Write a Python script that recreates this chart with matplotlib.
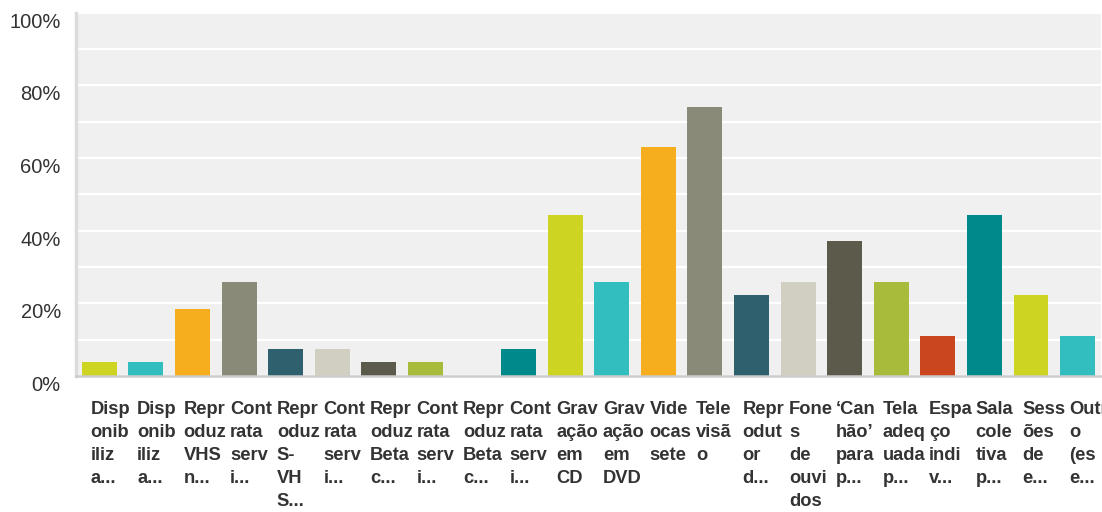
import matplotlib.pyplot as plt
from matplotlib.ticker import MultipleLocator, FuncFormatter

# respostas em % (n = 27)
labels = [
    'Disp\nonib\niliz\na...', 'Disp\nonib\niliz\na...', 'Repr\noduz\nVHS\nn...',
    'Cont\nrata\nserv\ni...', 'Repr\noduz\nS-\nVH\nS...', 'Cont\nrata\nserv\ni...',
    'Repr\noduz\nBeta\nc...', 'Cont\nrata\nserv\ni...', 'Repr\noduz\nBeta\nc...',
    'Cont\nrata\nserv\ni...', 'Grav\nação\nem\nCD', 'Grav\nação\nem\nDVD',
    'Vide\nocas\nsete', 'Tele\nvisã\no', 'Repr\nodut\nor\nd...',
    'Fone\ns\nde\nouvi\ndos', '‘Can\nhão’\npara\np...', 'Tela\nadeq\nuada\np...',
    'Espa\nço\nindi\nv...', 'Sala\ncole\ntiva\np...', 'Sess\nões\nde\ne...',
    'Outr\no\n(es\ne...',
]
values = [3.7, 3.7, 18.5, 25.9, 7.4, 7.4, 3.7, 3.7, 0.0, 7.4, 44.4,
          25.9, 63.0, 74.1, 22.2, 25.9, 37.0, 25.9, 11.1, 44.4, 22.2, 11.1]
palette = ['#CDD422', '#32BDBF', '#F6AE1F', '#8A8A79', '#2F606E',
           '#D0CFC2', '#5B5A4B', '#A9BB3A', '#C9461F', '#00898A']
colors = [palette[i % len(palette)] for i in range(len(values))]

fig = plt.figure(figsize=(11.02, 5.12), dpi=100)
ax = fig.add_axes([0.069, 0.266, 0.93, 0.709])
ax.set_facecolor('#F0F0F0')

x = list(range(len(values)))
ax.bar(x, values, width=0.75, color=colors, zorder=3)

ax.set_xlim(-0.5, len(values) - 0.5)
ax.set_ylim(0, 100)
ax.yaxis.set_major_locator(MultipleLocator(20))
ax.yaxis.set_minor_locator(MultipleLocator(10))
ax.yaxis.set_major_formatter(FuncFormatter(lambda v, p: f'{v:.0f}%'))
ax.grid(axis='y', which='both', color='white', linewidth=1.6, zorder=1)
ax.tick_params(axis='y', which='both', length=0, pad=11, labelsize=14.5,
               labelcolor='#333333')
ax.tick_params(axis='x', length=0, labelbottom=False)
for lab in ax.get_yticklabels():
    lab.set_family('Liberation Sans')
    lab.set_va('top')

for s in ['top', 'right']:
    ax.spines[s].set_visible(False)
ax.spines['left'].set_color('#DCDCDC')
ax.spines['left'].set_linewidth(2.5)
ax.spines['bottom'].set_color('#CCCCCC')
ax.spines['bottom'].set_linewidth(1.8)
ax.spines['bottom'].set_zorder(4)

for i, lab in enumerate(labels):
    ax.text(i - 0.19, -0.07, lab, transform=ax.get_xaxis_transform(),
            ha='left', va='top', fontsize=13.2, fontweight='bold',
            family='Liberation Sans', color='#333333', linespacing=1.46,
            clip_on=False)

fig.savefig('out.png', dpi=100)
